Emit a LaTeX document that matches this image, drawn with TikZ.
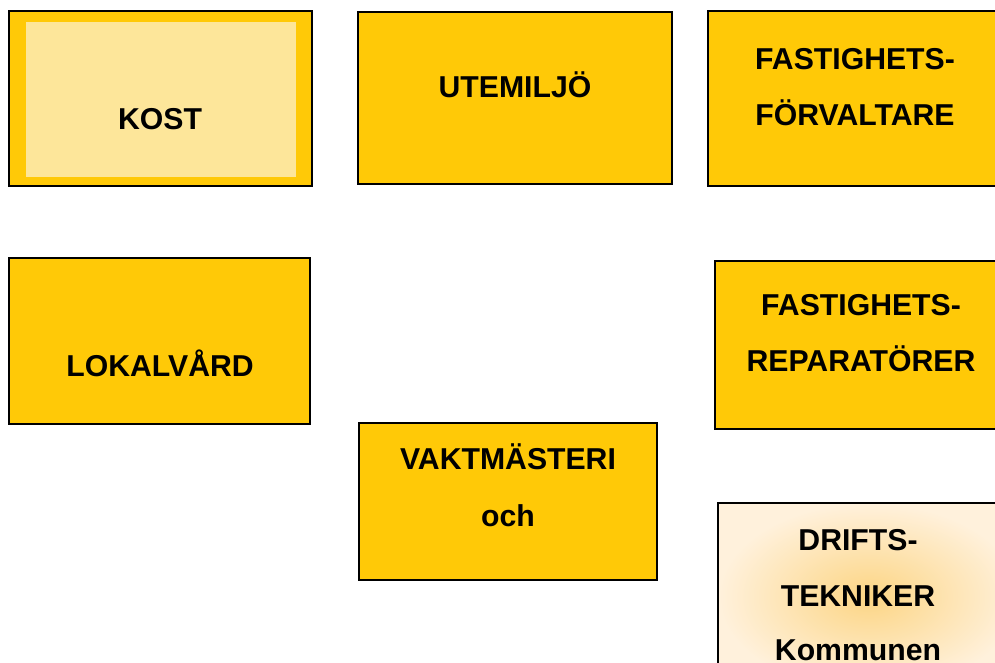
\documentclass[tikz,border=0pt]{standalone}
\usepackage{fontspec}
\setmainfont{Liberation Sans}
\definecolor{gold}{HTML}{FFC907}
\definecolor{paleyellow}{HTML}{FDE69A}
\definecolor{peachin}{HTML}{FCD584}
\definecolor{peachout}{HTML}{FFF1DC}
\begin{document}
\begin{tikzpicture}[x=1pt,y=-1pt,
  box/.style={draw=black, line width=1.6pt, fill=gold},
  lbl/.style={font=\bfseries\fontsize{30.2}{56}\selectfont, align=center, inner sep=0pt, anchor=base}]
\useasboundingbox (0,0) rectangle (995,663);
\clip (0,0) rectangle (995,663);
% KOST
\draw[box] (9,11) rectangle (312,186);
\fill[paleyellow] (26,22) rectangle (296,177);
\node[lbl] (kost) at (160,130) {KOST};
% UTEMILJO
\draw[box] (358,12) rectangle (672,184);
\node[lbl] (ute) at (515,98) {UTEMILJÖ};
% FASTIGHETSFORVALTARE
\draw[box] (708,11) rectangle (1002,186);
\node[lbl] (fv1) at (855,70) {FASTIGHETS-};
\node[lbl] (fv2) at (855,126) {FÖRVALTARE};
% LOKALVARD
\draw[box] (9,258) rectangle (310,424);
\node[lbl] (lok) at (160,376) {LOKALVÅRD};
% FASTIGHETSREPARATORER
\draw[box] (715,261) rectangle (1007,429);
\node[lbl] (fr1) at (861,315) {FASTIGHETS-};
\node[lbl] (fr2) at (861,371) {REPARATÖRER};
% VAKTMASTERI
\draw[box] (359,423) rectangle (657,580);
\node[lbl] (vakt1) at (508,469) {VAKTMÄSTERI};
\node[lbl] (vakt2) at (508,526) {och};
% DRIFTSTEKNIKER
\draw[draw=black, line width=1.6pt, inner color=peachin, outer color=peachout] (718,503) rectangle (1020,690);
\node[lbl] (dt1) at (858,550) {DRIFTS-};
\node[lbl] (dt2) at (858,606) {TEKNIKER};
\node[lbl] (dt3) at (858,660) {Kommunen};
\end{tikzpicture}
\end{document}
